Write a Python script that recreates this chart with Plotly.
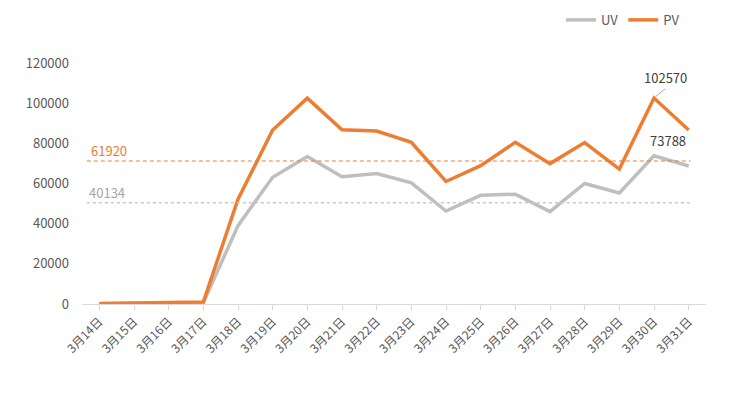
import plotly.graph_objects as go

dates = ["3月14日", "3月15日", "3月16日", "3月17日", "3月18日", "3月19日", "3月20日",
         "3月21日", "3月22日", "3月23日", "3月24日", "3月25日", "3月26日", "3月27日",
         "3月28日", "3月29日", "3月30日", "3月31日"]
uv = [100, 400, 500, 700, 39000, 63100, 73400, 63400, 65000, 60300, 46300, 54100,
      54700, 46000, 60000, 55300, 73788, 68700]
pv = [300, 700, 800, 1000, 52200, 86600, 102500, 86800, 86100, 80500, 61000, 68900,
      80500, 69900, 80400, 67200, 102570, 86600]
y_ticks = [0, 20000, 40000, 60000, 80000, 100000, 120000]

# reference lines (label text and drawn level as in the picture)
ref_labels = ["61920", "40134"]
ref_levels = [71200, 50400]

ORANGE = "#ED7D31"
GRAY = "#BFBFBF"
TXT = "#595959"
FONT = "Noto Sans CJK SC"

fig = go.Figure()
fig.add_trace(go.Scatter(x=list(range(len(dates))), y=uv, name="UV", mode="lines",
                         line=dict(color=GRAY, width=3.5)))
fig.add_trace(go.Scatter(x=list(range(len(dates))), y=pv, name="PV", mode="lines",
                         line=dict(color=ORANGE, width=3.5)))

fig.add_shape(type="line", xref="x", yref="y", x0=-0.36, x1=17.05,
              y0=ref_levels[0], y1=ref_levels[0],
              line=dict(color=ORANGE, width=1, dash="4px,3px"))
fig.add_shape(type="line", xref="x", yref="y", x0=-0.36, x1=17.05,
              y0=ref_levels[1], y1=ref_levels[1],
              line=dict(color="#C8C8C8", width=1.5, dash="3px,3px"))

fig.add_annotation(x=-0.3, y=ref_levels[0], text=ref_labels[0], showarrow=False,
                   xanchor="left", yanchor="bottom", yshift=-1,
                   font=dict(family=FONT, size=13, color=ORANGE))
fig.add_annotation(x=-0.35, y=ref_levels[1], text=ref_labels[1], showarrow=False,
                   xanchor="left", yanchor="bottom", yshift=-1,
                   font=dict(family=FONT, size=13, color="#A6A6A6"))

# data labels
fig.add_annotation(x=16, y=pv[16], text=str(pv[16]), showarrow=True, arrowhead=0,
                   arrowcolor="#A6A6A6", arrowwidth=1, ax=11, ay=-9,
                   xanchor="center", yanchor="bottom", standoff=2,
                   font=dict(family=FONT, size=13, color="#404040"))
fig.add_annotation(x=16, y=uv[16], text=str(uv[16]), showarrow=False,
                   xanchor="center", yanchor="bottom", xshift=14, yshift=4,
                   font=dict(family=FONT, size=13, color="#404040"))

# page body has an 8px margin, so the figure area is offset by 8px
fig.update_layout(
    width=735, height=398,
    margin=dict(l=74, r=37, t=55, b=102, autoexpand=False),
    paper_bgcolor="white", plot_bgcolor="white",
    font=dict(family=FONT, color=TXT),
    showlegend=True,
    legend=dict(orientation="h", xref="container", yref="container",
                x=0.921, y=0.97, xanchor="right", yanchor="middle",
                font=dict(family=FONT, size=13, color=TXT),
                traceorder="normal", tracegroupgap=0),
)
fig.update_xaxes(
    tickmode="array", tickvals=list(range(len(dates))), ticktext=dates,
    range=[-0.5, len(dates) - 0.5], tickangle=-45, automargin=False,
    showgrid=False, zeroline=False,
    showline=True, linecolor="#D9D9D9", linewidth=1,
    ticks="outside", ticklen=5, tickcolor="#D9D9D9",
    tickfont=dict(family=FONT, size=12, color=TXT),
    tickson="boundaries",
)
fig.update_yaxes(
    range=[0, 120000], tickvals=y_ticks, ticktext=[str(v) for v in y_ticks],
    automargin=False,
    showgrid=False, zeroline=False, showline=False, ticks="",
    tickfont=dict(family=FONT, size=13, color=TXT), ticklabelstandoff=12,
)

fig.write_html("out.html")
